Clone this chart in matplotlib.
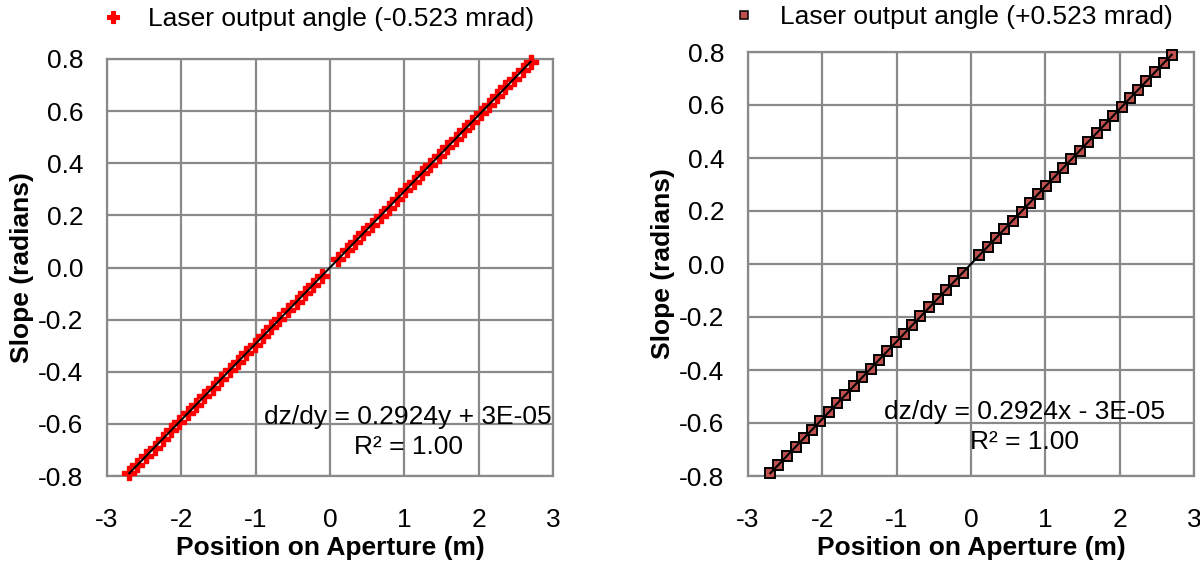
"""
Slope across the aperture for the two laser output angles.
"""

import matplotlib
matplotlib.use("Agg")
import matplotlib.pyplot as plt
from matplotlib.lines import Line2D

plt.rcParams.update({
    "font.family": ["Liberation Sans", "DejaVu Sans"],
    "font.size": 19,
    "axes.unicode_minus": False,
})

# Sample positions across the aperture (m)
POSITION = [
    -2.70, -2.59, -2.48, -2.36, -2.25, -2.14, -2.03, -1.91, -1.80, -1.69,
    -1.58, -1.46, -1.35, -1.24, -1.13, -1.01, -0.90, -0.79, -0.68, -0.56,
    -0.45, -0.34, -0.23, -0.11,
    0.11, 0.23, 0.34, 0.45, 0.56, 0.68, 0.79, 0.90, 1.01, 1.13,
    1.24, 1.35, 1.46, 1.58, 1.69, 1.80, 1.91, 2.03, 2.14, 2.25,
    2.36, 2.48, 2.59, 2.70,
]
# Measured slope (radians)
SLOPE_NEG = [
    -0.789, -0.757, -0.724, -0.691, -0.658, -0.625, -0.592, -0.559, -0.526, -0.493,
    -0.461, -0.428, -0.395, -0.362, -0.329, -0.296, -0.263, -0.230, -0.197, -0.164,
    -0.132, -0.099, -0.066, -0.033,
    0.033, 0.066, 0.099, 0.132, 0.164, 0.197, 0.230, 0.263, 0.296, 0.329,
    0.362, 0.395, 0.428, 0.461, 0.493, 0.526, 0.559, 0.592, 0.625, 0.658,
    0.691, 0.724, 0.757, 0.789,
]
SLOPE_POS = [
    -0.789, -0.757, -0.724, -0.691, -0.658, -0.625, -0.592, -0.559, -0.526, -0.493,
    -0.461, -0.428, -0.395, -0.362, -0.329, -0.296, -0.263, -0.230, -0.197, -0.164,
    -0.132, -0.099, -0.066, -0.033,
    0.033, 0.066, 0.099, 0.132, 0.164, 0.197, 0.230, 0.263, 0.296, 0.329,
    0.362, 0.395, 0.428, 0.461, 0.493, 0.526, 0.559, 0.592, 0.625, 0.658,
    0.691, 0.724, 0.757, 0.789,
]

# Linear fits (slope, intercept)
FIT_NEG = (0.2924, 3e-05)
FIT_POS = (0.2924, -3e-05)

NEG_LABEL = "Laser output angle (-0.523 mrad)"
POS_LABEL = "Laser output angle (+0.523 mrad)"
NEG_EQ = "dz/dy = 0.2924y + 3E-05"
POS_EQ = "dz/dy = 0.2924x - 3E-05"
R2_TEXT = "R² = 1.00"

X_TICKS = [-3, -2, -1, 0, 1, 2, 3]
Y_TICKS = [-0.8, -0.6, -0.4, -0.2, 0.0, 0.2, 0.4, 0.6, 0.8]

GRID_GREY = "#898989"
SQUARE_RED = "#c0504d"

W, H = 1200, 567


def style_axes(ax):
    ax.set_xlim(-3, 3)
    ax.set_ylim(-0.8, 0.8)
    ax.set_xticks(X_TICKS)
    ax.set_yticks(Y_TICKS)
    ax.set_yticklabels([f"{v:.1f}" for v in Y_TICKS])
    ax.grid(True, color=GRID_GREY, linewidth=1.6)
    ax.set_axisbelow(True)
    ax.tick_params(length=0, labelsize=19)
    ax.tick_params(axis="x", pad=23)
    ax.tick_params(axis="y", pad=17)
    for s in ax.spines.values():
        s.set_color(GRID_GREY)
        s.set_linewidth(1.6)
    ax.set_xlabel("Position on Aperture (m)", fontweight="bold", fontsize=19, labelpad=3)
    ax.set_ylabel("Slope (radians)", fontweight="bold", fontsize=19, labelpad=3)


def draw_fit(ax, fit):
    m, b = fit
    xs = [min(POSITION), max(POSITION)]
    ax.plot(xs, [m * x + b for x in xs], color="black", linewidth=1.5, zorder=4)


fig = plt.figure(figsize=(W / 100, H / 100), dpi=100)
ax1 = fig.add_axes([107 / W, 1 - 476 / H, 446 / W, 417 / H])
ax2 = fig.add_axes([748 / W, 1 - 476 / H, 446 / W, 424 / H])

# Left panel: negative output angle
ax1.plot(POSITION, SLOPE_NEG, linestyle="", marker="P", markersize=10.5,
         color="#ff0000", markeredgecolor="#ff0000", markeredgewidth=1.0,
         zorder=3, clip_on=False)
draw_fit(ax1, FIT_NEG)
style_axes(ax1)
ax1.text(0.675, 0.141, NEG_EQ, transform=ax1.transAxes, ha="center", va="center", fontsize=19)
ax1.text(0.675, 0.07, R2_TEXT, transform=ax1.transAxes, ha="center", va="center", fontsize=19)

# Right panel: positive output angle
ax2.plot(POSITION, SLOPE_POS, linestyle="", marker="s", markersize=7,
         markerfacecolor=SQUARE_RED, markeredgecolor="black", markeredgewidth=1.4,
         zorder=3, clip_on=False)
draw_fit(ax2, FIT_POS)
style_axes(ax2)
ax2.text(0.62, 0.151, POS_EQ, transform=ax2.transAxes, ha="center", va="center", fontsize=19)
ax2.text(0.62, 0.08, R2_TEXT, transform=ax2.transAxes, ha="center", va="center", fontsize=19)

neg_handle = Line2D([], [], linestyle="", marker="P", markersize=8, color="#ff0000",
                    markeredgecolor="#ff0000", markeredgewidth=0.8)
pos_handle = Line2D([], [], linestyle="", marker="s", markersize=6,
                    markerfacecolor=SQUARE_RED, markeredgecolor="black", markeredgewidth=1.1)
fig.legend([neg_handle], [NEG_LABEL], loc="center left", bbox_to_anchor=(101 / W, 1 - 19 / H),
           frameon=False, fontsize=19, handlelength=0.9, handletextpad=0.9, borderaxespad=0,
           borderpad=0)
fig.legend([pos_handle], [POS_LABEL], loc="center left", bbox_to_anchor=(732 / W, 1 - 17 / H),
           frameon=False, fontsize=19, handlelength=0.9, handletextpad=0.9, borderaxespad=0,
           borderpad=0)

fig.savefig("out.png", dpi=100)
